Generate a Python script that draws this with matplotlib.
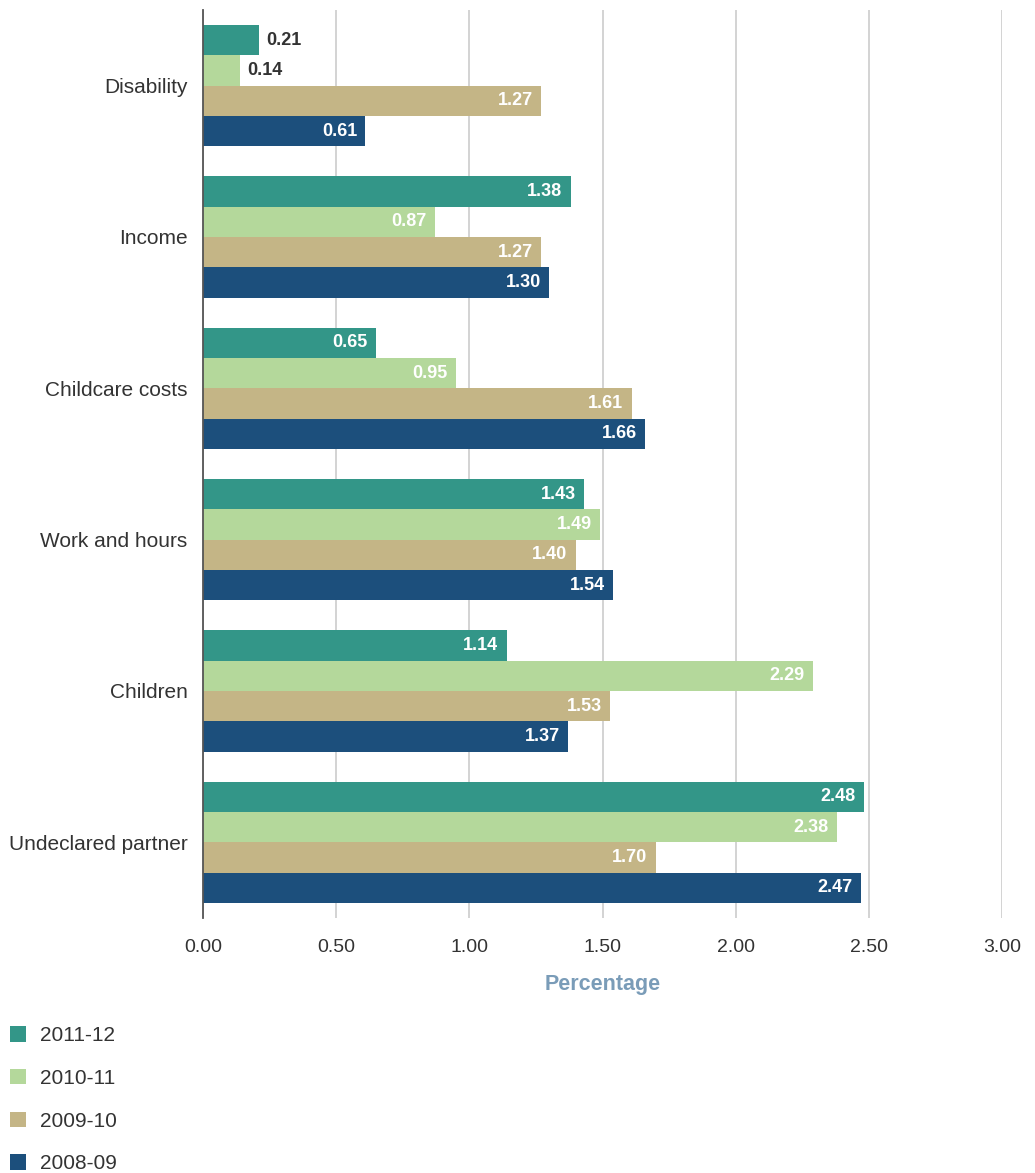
"""Horizontal grouped bars: change-of-circumstance percentages by year."""
import numpy as np
import matplotlib
matplotlib.use('Agg')
import matplotlib.pyplot as plt
from matplotlib.patches import Patch

plt.rcParams['font.family'] = ['Liberation Sans', 'DejaVu Sans']

categories = ['Disability', 'Income', 'Childcare costs', 'Work and hours',
              'Children', 'Undeclared partner']
years = ['2011-12', '2010-11', '2009-10', '2008-09']
v_2011_12 = [0.21, 1.38, 0.65, 1.43, 1.14, 2.48]
v_2010_11 = [0.14, 0.87, 0.95, 1.49, 2.29, 2.38]
v_2009_10 = [1.27, 1.27, 1.61, 1.40, 1.53, 1.70]
v_2008_09 = [0.61, 1.30, 1.66, 1.54, 1.37, 2.47]
series = [v_2011_12, v_2010_11, v_2009_10, v_2008_09]
colors = ['#339688', '#b4d89b', '#c4b586', '#1c4f7c']

fig = plt.figure(figsize=(10.35, 11.73), dpi=100)
ax = fig.add_axes([203 / 1035, 1 - 918 / 1173, 799 / 1035, 908 / 1173])

y = np.arange(len(categories))
h = 0.2
offsets = [-0.3, -0.1, 0.1, 0.3]

for vals, off, col in zip(series, offsets, colors):
    bars = ax.barh(y + off, vals, height=h, color=col, zorder=3)
    for b, v in zip(bars, vals):
        yc = b.get_y() + b.get_height() / 2
        if v < 0.3:
            ax.annotate(f'{v:.2f}', (v, yc), xytext=(5, 0), textcoords='offset points',
                        ha='left', va='center', fontsize=13, fontweight='bold',
                        color='#333333', zorder=4)
        else:
            ax.annotate(f'{v:.2f}', (v, yc), xytext=(-6, 0), textcoords='offset points',
                        ha='right', va='center', fontsize=13, fontweight='bold',
                        color='white', zorder=4)

ax.set_xlim(0, 3.0)
ax.set_ylim(5.5, -0.5)
ax.set_xticks(np.arange(0, 3.01, 0.5))
ax.set_xticklabels([f'{t:.2f}' for t in np.arange(0, 3.01, 0.5)])
ax.set_yticks(y)
ax.set_yticklabels(categories)

ax.grid(axis='x', color='#cccccc', linewidth=1.2, zorder=0)
for s in ['top', 'right', 'bottom']:
    ax.spines[s].set_visible(False)
ax.spines['left'].set_color('#555555')
ax.spines['left'].set_linewidth(1.3)
ax.spines['left'].set_zorder(5)

ax.tick_params(axis='x', length=0, pad=15, labelsize=14, labelcolor='#333333')
ax.tick_params(axis='y', length=0, pad=11, labelsize=15, labelcolor='#333333')

ax.set_xlabel('Percentage', fontsize=15.5, fontweight='bold', color='#7a9cb8',
              labelpad=13)

handles = [Patch(facecolor=c, edgecolor='none') for c in colors]
fig.legend(handles, years, loc='upper left',
           bbox_to_anchor=(10 / 1035, 1 - 1026 / 1173),
           frameon=False, fontsize=15, borderpad=0, borderaxespad=0,
           handlelength=0.77, handleheight=0.77, handletextpad=0.67,
           labelspacing=1.14, labelcolor='#333333')

fig.savefig('out.png', dpi=100)
